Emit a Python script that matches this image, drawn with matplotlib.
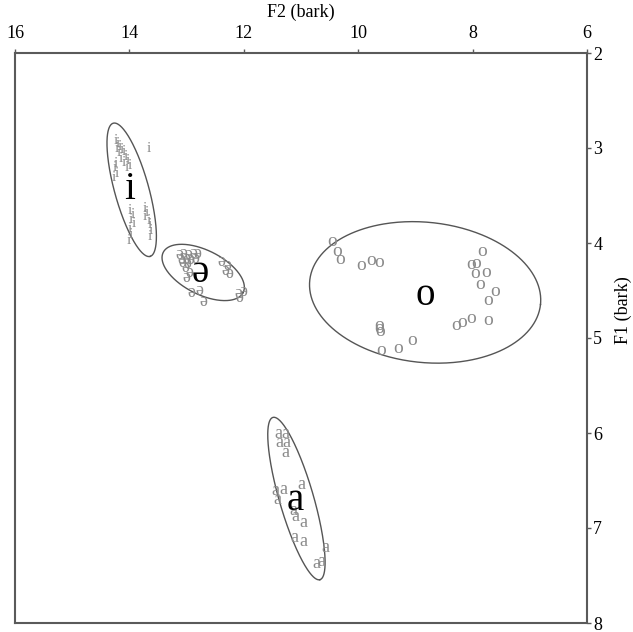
import numpy as np
import matplotlib
matplotlib.use("Agg")
import matplotlib.pyplot as plt

plt.rcParams['font.family'] = ['Liberation Serif', 'DejaVu Serif']

# ---- data (F2, F1 in bark) ----
i_f2 = [14.23, 14.20, 14.16, 14.22, 14.13, 14.18, 14.09, 14.06, 14.15, 14.02, 14.09, 13.99,
        14.23, 14.25, 14.22, 14.27, 14.04,
        13.99, 13.94, 13.97, 13.92, 13.99, 13.97, 13.74, 13.69, 13.73, 13.67, 13.64, 13.62,
        13.64, 14.01, 13.67]
i_f1 = [2.92, 2.95, 2.98, 3.00, 3.02, 3.05, 3.04, 3.09, 3.11, 3.13, 3.15, 3.18,
        3.16, 3.21, 3.27, 3.31, 3.21,
        3.66, 3.70, 3.75, 3.79, 3.85, 3.91, 3.64, 3.68, 3.72, 3.76, 3.81, 3.87,
        3.93, 3.97, 3.00]

schwa_f2 = [13.13, 13.06, 12.97, 12.89, 12.82, 13.10, 13.01, 12.93, 12.84, 13.07, 12.99, 13.03,
            12.95, 13.01, 12.39, 12.29, 12.33, 12.25, 12.91, 12.78, 12.71, 12.10, 12.01, 12.07]
schwa_f1 = [4.12, 4.11, 4.12, 4.11, 4.11, 4.17, 4.16, 4.17, 4.16, 4.21, 4.22, 4.26,
            4.31, 4.36, 4.20, 4.24, 4.29, 4.32, 4.52, 4.50, 4.62, 4.53, 4.51, 4.57]

o_f2 = [10.45, 10.36, 10.32, 9.95, 9.78, 9.64, 7.84, 8.02, 7.93, 7.95, 7.77, 7.87, 7.60,
        7.73, 7.72, 8.02, 8.19, 8.28, 9.63, 9.62, 9.63, 9.60, 9.30, 9.05]
o_f1 = [3.98, 4.09, 4.17, 4.24, 4.18, 4.21, 4.09, 4.23, 4.22, 4.32, 4.31, 4.44, 4.51,
        4.61, 4.82, 4.79, 4.84, 4.87, 4.87, 4.93, 4.90, 5.13, 5.11, 5.03]

a_f2 = [11.40, 11.28, 11.37, 11.25, 11.27, 11.44, 11.31, 11.42, 10.99, 11.13, 11.09, 10.96,
        11.12, 10.96, 10.58, 10.73, 10.64]
a_f1 = [6.01, 6.01, 6.10, 6.10, 6.21, 6.61, 6.59, 6.70, 6.54, 6.82, 6.88, 6.94,
        7.10, 7.14, 7.21, 7.37, 7.35]

vowels = ['i', 'ə', 'o', 'a']
token_f2 = [i_f2, schwa_f2, o_f2, a_f2]
token_f1 = [i_f1, schwa_f1, o_f1, a_f1]
token_size = [11, 13, 14, 13]

# vowel label positions (means)
mean_f2 = [13.99, 12.77, 8.83, 11.10]
mean_f1 = [3.44, 4.31, 4.55, 6.71]

# ellipses: centre and two conjugate semi-diameters (F2, F1)
ell_c = [(13.96, 3.44), (12.71, 4.31), (8.83, 4.52), (11.08, 6.69)]
ell_a = [(-0.323, 0.701), (-0.699, 0.211), (-2.017, 0.127), (-0.411, 0.854)]
ell_b = [(-0.287, -0.050), (0.171, 0.208), (0.128, 0.734), (-0.287, -0.050)]

x_ticks = [16, 14, 12, 10, 8, 6]
y_ticks = [2, 3, 4, 5, 6, 7, 8]

# ---- figure ----
fig = plt.figure(figsize=(6.33, 6.32), dpi=100)
ax = fig.add_axes([15 / 633, 1 - 623 / 632, 572 / 633, 570 / 632])
ax.set_xlim(16, 6)
ax.set_ylim(8, 2)

frame_col = '#5a5a5a'
for s in ax.spines.values():
    s.set_color(frame_col)
    s.set_linewidth(1.5)

ax.xaxis.set_ticks_position('top')
ax.xaxis.set_label_position('top')
ax.yaxis.set_ticks_position('right')
ax.set_xticks(x_ticks)
ax.set_yticks(y_ticks)
ax.tick_params(axis='x', length=3, pad=5, labelsize=13, color=frame_col, width=1)
ax.tick_params(axis='y', length=3, pad=1.5, labelsize=13, color=frame_col, width=1)
ax.set_xlabel('F2 (bark)', fontsize=13, labelpad=6)
fig.text(623 / 633, 1 - 310 / 632, 'F1 (bark)', fontsize=13, rotation=90,
         ha='center', va='center')

t = np.linspace(0, 2 * np.pi, 400)
for (cx, cy), (ax1, ay1), (bx1, by1) in zip(ell_c, ell_a, ell_b):
    ex = cx + ax1 * np.cos(t) + bx1 * np.sin(t)
    ey = cy + ay1 * np.cos(t) + by1 * np.sin(t)
    ax.plot(ex, ey, color='#555555', lw=1.0)

for v, xs, ys, fs in zip(vowels, token_f2, token_f1, token_size):
    for x, y in zip(xs, ys):
        ax.text(x, y, v, color='#8a8a8a', fontsize=fs, ha='center', va='center')

for v, x, y in zip(vowels, mean_f2, mean_f1):
    ax.text(x, y, v, color='black', fontsize=28, ha='center', va='center')

fig.savefig('out.png', dpi=100)
